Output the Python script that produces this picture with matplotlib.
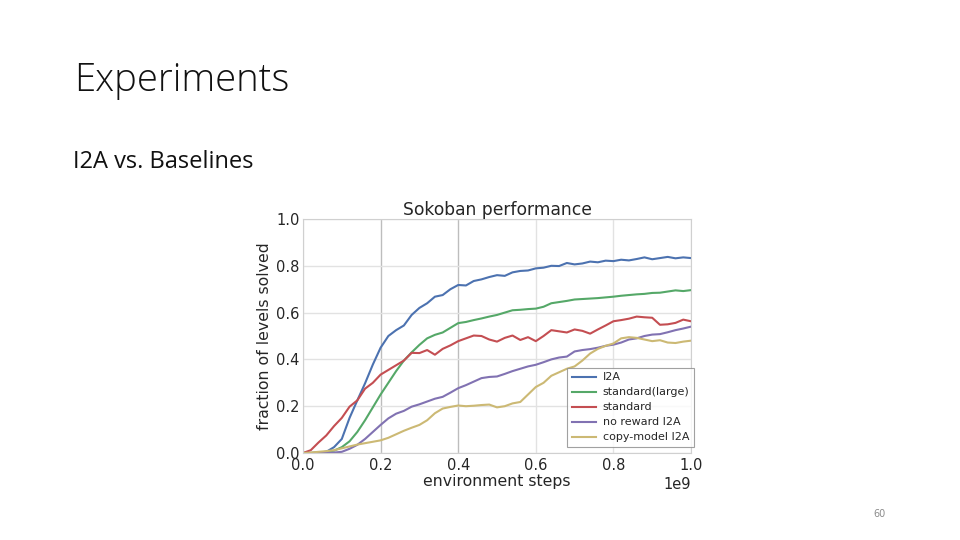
import matplotlib
matplotlib.use("Agg")
import matplotlib.pyplot as plt

# environment steps (x 1e9)
steps = [0.00, 0.02, 0.04, 0.06, 0.08, 0.10, 0.12, 0.14, 0.16, 0.18,
         0.20, 0.22, 0.24, 0.26, 0.28, 0.30, 0.32, 0.34, 0.36, 0.38,
         0.40, 0.42, 0.44, 0.46, 0.48, 0.50, 0.52, 0.54, 0.56, 0.58,
         0.60, 0.62, 0.64, 0.66, 0.68, 0.70, 0.72, 0.74, 0.76, 0.78,
         0.80, 0.82, 0.84, 0.86, 0.88, 0.90, 0.92, 0.94, 0.96, 0.98, 1.00]

i2a = [0.000, 0.000, 0.002, 0.005, 0.025, 0.060, 0.150, 0.225, 0.298, 0.378,
       0.450, 0.500, 0.525, 0.545, 0.590, 0.620, 0.640, 0.668, 0.675, 0.700,
       0.718, 0.716, 0.735, 0.742, 0.752, 0.760, 0.757, 0.772, 0.778, 0.780,
       0.789, 0.792, 0.800, 0.799, 0.812, 0.806, 0.810, 0.818, 0.815, 0.822,
       0.820, 0.826, 0.823, 0.829, 0.836, 0.828, 0.833, 0.838, 0.832, 0.836, 0.833]

standard_large = [0.000, 0.000, 0.002, 0.005, 0.010, 0.025, 0.050, 0.090, 0.140, 0.195,
                  0.250, 0.300, 0.350, 0.395, 0.430, 0.462, 0.490, 0.505, 0.515, 0.535,
                  0.555, 0.560, 0.568, 0.575, 0.583, 0.590, 0.600, 0.610, 0.612, 0.615,
                  0.617, 0.625, 0.640, 0.645, 0.650, 0.656, 0.658, 0.660, 0.662, 0.665,
                  0.668, 0.672, 0.675, 0.678, 0.680, 0.684, 0.685, 0.690, 0.695, 0.692, 0.696]

standard = [0.000, 0.012, 0.045, 0.075, 0.115, 0.150, 0.198, 0.225, 0.275, 0.300,
            0.335, 0.355, 0.375, 0.395, 0.428, 0.427, 0.440, 0.420, 0.445, 0.460,
            0.478, 0.490, 0.502, 0.500, 0.485, 0.476, 0.492, 0.502, 0.483, 0.495,
            0.478, 0.500, 0.525, 0.520, 0.515, 0.528, 0.522, 0.510, 0.528, 0.545,
            0.563, 0.568, 0.574, 0.583, 0.580, 0.578, 0.548, 0.550, 0.556, 0.570, 0.563]

no_reward_i2a = [0.000, 0.000, 0.000, 0.000, 0.002, 0.005, 0.018, 0.035, 0.060, 0.090,
                 0.120, 0.148, 0.168, 0.180, 0.198, 0.208, 0.220, 0.232, 0.240, 0.258,
                 0.277, 0.290, 0.305, 0.320, 0.325, 0.327, 0.338, 0.350, 0.360, 0.370,
                 0.377, 0.388, 0.400, 0.408, 0.412, 0.434, 0.440, 0.444, 0.450, 0.458,
                 0.463, 0.472, 0.485, 0.490, 0.500, 0.506, 0.508, 0.516, 0.525, 0.532, 0.540]

copy_model_i2a = [0.000, 0.002, 0.005, 0.008, 0.012, 0.020, 0.028, 0.036, 0.042, 0.048,
                  0.054, 0.065, 0.080, 0.095, 0.108, 0.120, 0.140, 0.170, 0.190, 0.197,
                  0.203, 0.200, 0.202, 0.205, 0.207, 0.195, 0.200, 0.212, 0.218, 0.250,
                  0.282, 0.300, 0.330, 0.345, 0.360, 0.370, 0.395, 0.425, 0.445, 0.458,
                  0.468, 0.490, 0.495, 0.492, 0.485, 0.478, 0.482, 0.472, 0.470, 0.476, 0.480]

series = [
    ("I2A", i2a, "#4C72B0"),
    ("standard(large)", standard_large, "#55A868"),
    ("standard", standard, "#C44E52"),
    ("no reward I2A", no_reward_i2a, "#8172B2"),
    ("copy-model I2A", copy_model_i2a, "#CCB974"),
]

fig = plt.figure(figsize=(9.6, 5.4), dpi=100)
fig.patch.set_facecolor("white")

# slide text
fig.text(74 / 960, 1 - 81 / 540, "Experiments", fontsize=27.5, family="Open Sans",
         fontweight="light", va="center", ha="left", color="#111111")
fig.text(73 / 960, 1 - 162 / 540, "I2A vs. Baselines", fontsize=17, family="Open Sans",
         va="center", ha="left", color="#111111")
fig.text(880 / 960, 1 - 514 / 540, "60", fontsize=7, family="DejaVu Sans",
         va="center", ha="center", color="#8c8c8c")

ax = fig.add_axes([303 / 960, 1 - 453 / 540, 388 / 960, 234 / 540])
for name, vals, col in series:
    ax.plot([s * 1e9 for s in steps], vals, color=col, lw=1.5, label=name)

ax.set_xlim(0, 1e9)
ax.set_ylim(0, 1.0)
ax.set_xticks([0, 0.2e9, 0.4e9, 0.6e9, 0.8e9, 1.0e9])
ax.set_yticks([0.0, 0.2, 0.4, 0.6, 0.8, 1.0])
ax.ticklabel_format(axis="x", style="sci", scilimits=(0, 0))
ax.xaxis.get_offset_text().set_fontsize(10.5)
ax.xaxis.get_offset_text().set_color("#262626")
ax.grid(True, color="#e2e2e2", lw=1.0)
ax.set_axisbelow(True)
# the 0.2 and 0.4 vertical gridlines look darker in the reference
glines = ax.xaxis.get_gridlines()
glines[1].set_color("#bdbdbd")
glines[2].set_color("#bdbdbd")
for sp in ax.spines.values():
    sp.set_color("#d0d0d0")
ax.tick_params(axis="y", length=0, pad=2.5, labelsize=10.5, labelcolor="#262626")
ax.tick_params(axis="x", length=0, pad=3.5, labelsize=10.5, labelcolor="#262626")

ax.set_title("Sokoban performance", fontsize=12.3, color="#262626", pad=2)
ax.set_xlabel("environment steps", fontsize=11.3, color="#262626", labelpad=1)
ax.set_ylabel("fraction of levels solved", fontsize=11.3, color="#262626", labelpad=3)

leg = ax.legend(loc="lower right", fontsize=8, frameon=True, fancybox=False,
                handlelength=2.2, borderpad=0.4, labelspacing=0.45, handletextpad=0.6,
                borderaxespad=0, bbox_to_anchor=(1.008, 0.026))
leg.get_frame().set_edgecolor("#8a8a8a")
leg.get_frame().set_linewidth(0.8)
for t in leg.get_texts():
    t.set_color("#262626")

fig.savefig("out.png", dpi=100)
